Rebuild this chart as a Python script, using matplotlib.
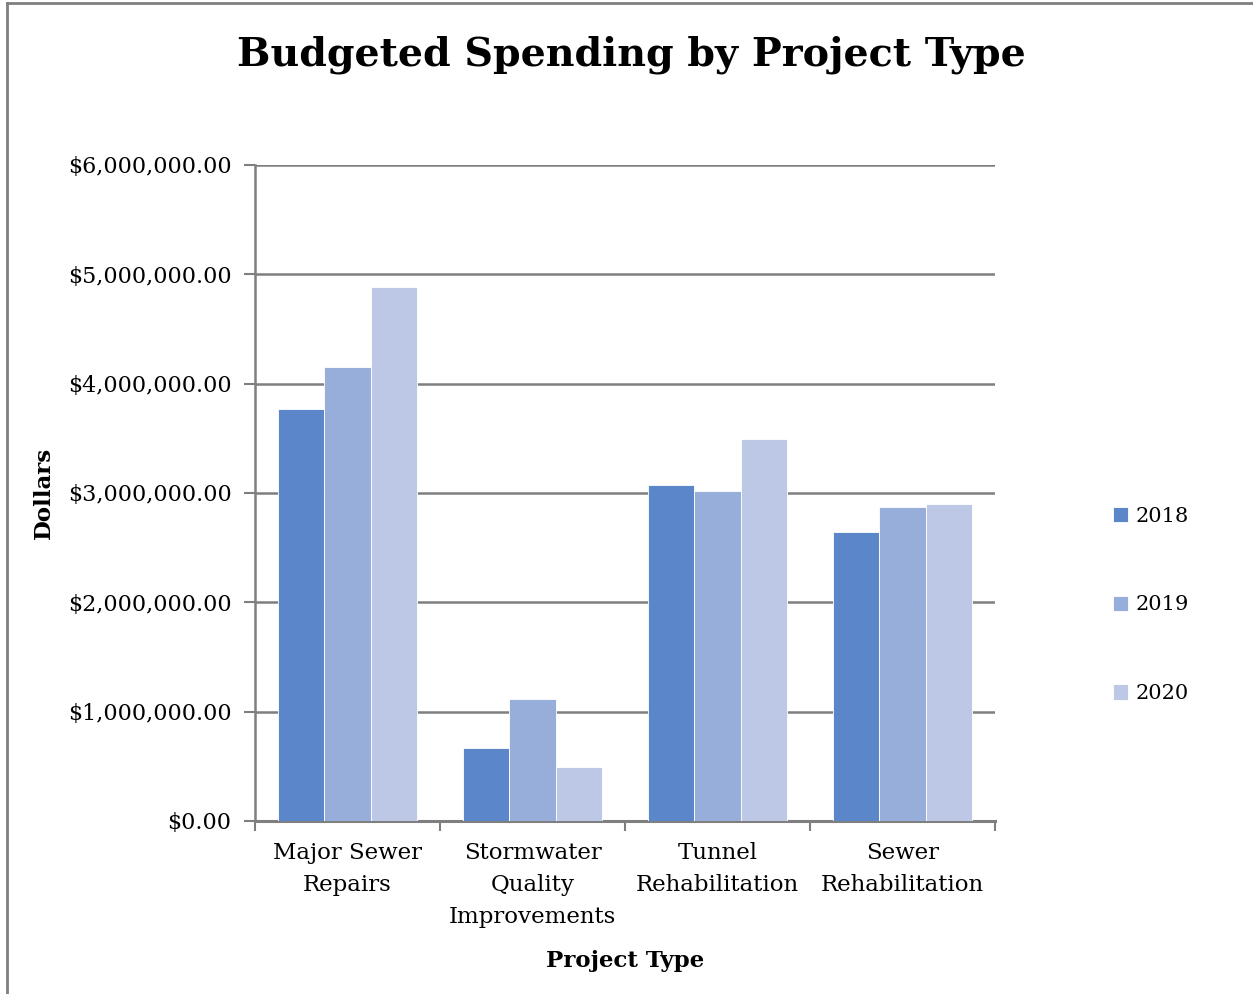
import matplotlib
matplotlib.use("Agg")
import matplotlib.pyplot as plt
from matplotlib.lines import Line2D
from matplotlib.ticker import FuncFormatter
import numpy as np

# data
project_types = ["Major Sewer\nRepairs", "Stormwater\nQuality\nImprovements",
                 "Tunnel\nRehabilitation", "Sewer\nRehabilitation"]
years = ["2018", "2019", "2020"]
spend_2018 = [3770000, 668000, 3070000, 2640000]
spend_2019 = [4155000, 1116000, 3020000, 2872000]
spend_2020 = [4880000, 495000, 3495000, 2900000]
y_ticks = [0, 1000000, 2000000, 3000000, 4000000, 5000000, 6000000]

colors = ["#5B87CA", "#97AEDA", "#BDC8E6"]
grid_col = "#7f7f7f"

plt.rcParams["font.family"] = "DejaVu Serif"

fig = plt.figure(figsize=(12.53, 9.94), dpi=100)
ax = fig.add_axes([255 / 1253, 1 - 821 / 994, 740 / 1253, 656 / 994])

x = np.arange(len(project_types))
w = 0.25
for i, (vals, yr) in enumerate(zip([spend_2018, spend_2019, spend_2020], years)):
    ax.bar(x + (i - 1) * w, vals, w, color=colors[i], label=yr,
           edgecolor="white", linewidth=0.6, zorder=3)

ax.set_xlim(-0.5, len(project_types) - 0.5)
ax.set_ylim(0, 6000000)
ax.set_yticks(y_ticks)
ax.yaxis.set_major_formatter(FuncFormatter(lambda v, p: "${:,.2f}".format(v)))
ax.tick_params(axis="y", length=8, width=1.5, color=grid_col, pad=9, labelsize=16)
ax.grid(axis="y", color=grid_col, linewidth=1.8, zorder=1)

# category ticks sit between groups, labels centred in groups
ax.set_xticks(np.arange(len(project_types) + 1) - 0.5)
ax.set_xticklabels([])
ax.set_xticks(x, minor=True)
ax.set_xticklabels(project_types, minor=True, fontsize=16.5, linespacing=1.6)
ax.tick_params(axis="x", which="major", length=7, width=1.5, color=grid_col)
ax.tick_params(axis="x", which="minor", length=0, pad=15)

for s in ["top", "right"]:
    ax.spines[s].set_visible(False)
ax.spines["left"].set_color(grid_col)
ax.spines["left"].set_linewidth(1.8)
ax.spines["bottom"].set_color(grid_col)
ax.spines["bottom"].set_linewidth(2.2)

ax.set_ylabel("Dollars", fontsize=16.5, fontweight="bold")
ax.yaxis.set_label_coords(-0.285 + 11 / 740, 0.5)
fig.text(625 / 1253, 1 - 961 / 994, "Project Type", fontsize=16.5, fontweight="bold",
         ha="center", va="center")

fig.text(631 / 1253, 1 - 55 / 994, "Budgeted Spending by Project Type",
         fontsize=28.5, fontweight="bold", ha="center", va="center")

leg = fig.legend(loc="center left", bbox_to_anchor=(1094 / 1253, 1 - 605 / 994),
                 frameon=False, fontsize=15, handlelength=0.75, handleheight=0.75,
                 handletextpad=0.35, labelspacing=3.35)

# chart area border (cropped at right and bottom)
fig.add_artist(Line2D([7 / 1253, 7 / 1253], [0, 1 - 3 / 994], color=grid_col,
                      linewidth=2, transform=fig.transFigure))
fig.add_artist(Line2D([7 / 1253, 1], [1 - 3 / 994, 1 - 3 / 994], color=grid_col,
                      linewidth=2, transform=fig.transFigure))

fig.savefig("out.png", dpi=100)
